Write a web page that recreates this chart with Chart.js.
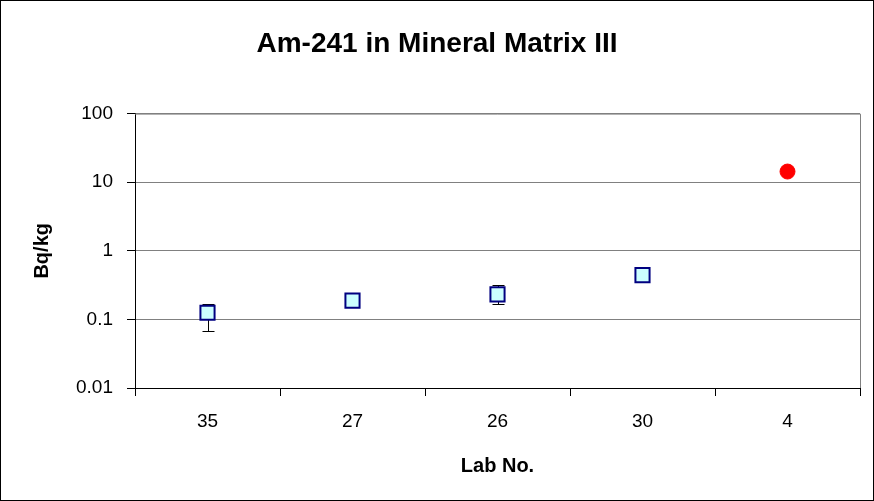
<!DOCTYPE html>
<html>
<head>
<meta charset="utf-8">
<script src="https://cdn.jsdelivr.net/npm/chart.js@4"></script>
<style>
  html, body { margin: 0; padding: 0; background: #fff; }
  #wrap { width: 874px; height: 501px; }
</style>
</head>
<body>
<div id="wrap"><canvas id="myCanvas" width="874" height="501"></canvas></div>
<script>
const labs = ["35", "27", "26", "30", "4"];
const values = [0.125, 0.188, 0.232, 0.442, null];
const outlier = [null, null, null, null, 14.3];
const errLow = [0.0686, null, 0.169, null, null];
const errHigh = [0.168, null, 0.317, null, null];
const yTicks = [0.01, 0.1, 1, 10, 100];

const FONT = "'Liberation Sans', Arial, sans-serif";

// outer frame + top/right border of the plot area
const framePlugin = {
  id: "frame",
  afterDraw(chart) {
    const ctx = chart.ctx;
    const a = chart.chartArea;
    ctx.save();
    ctx.strokeStyle = "#808080";
    ctx.lineWidth = 1;
    ctx.beginPath();
    ctx.moveTo(a.left, a.top + 0.5);
    ctx.lineTo(a.right + 0.5, a.top + 0.5);
    ctx.lineTo(a.right + 0.5, a.bottom);
    ctx.stroke();
    ctx.strokeStyle = "#000";
    ctx.strokeRect(0.5, 0.5, chart.width - 1, chart.height - 1);
    ctx.restore();
  }
};

// error bars drawn under the markers
const errorBars = {
  id: "errorBars",
  beforeDatasetsDraw(chart) {
    const ctx = chart.ctx;
    const x = chart.scales.x;
    const y = chart.scales.y;
    ctx.save();
    ctx.strokeStyle = "#000";
    ctx.lineWidth = 1;
    errLow.forEach((lo, i) => {
      if (lo == null) return;
      const px = Math.round(x.getPixelForValue(i)) + 0.5;
      const y1 = Math.round(y.getPixelForValue(lo)) + 0.5;
      const y2 = Math.round(y.getPixelForValue(errHigh[i])) + 0.5;
      ctx.beginPath();
      ctx.moveTo(px, y1);
      ctx.lineTo(px, y2);
      ctx.moveTo(px - 6, y1);
      ctx.lineTo(px + 6, y1);
      ctx.moveTo(px - 6, y2);
      ctx.lineTo(px + 6, y2);
      ctx.stroke();
    });
    ctx.restore();
  }
};

new Chart(document.getElementById("myCanvas").getContext("2d"), {
  type: "line",
  data: {
    labels: labs,
    datasets: [
      {
        label: "Results",
        data: values,
        showLine: false,
        pointStyle: "rect",
        pointRadius: 10,
        pointHoverRadius: 10,
        pointBackgroundColor: "#ccffff",
        pointBorderColor: "#000080",
        pointBorderWidth: 2
      },
      {
        label: "Outlier",
        data: outlier,
        showLine: false,
        pointStyle: "circle",
        pointRadius: 7.5,
        pointHoverRadius: 7.5,
        pointBackgroundColor: "#ff0000",
        pointBorderColor: "#ff0000",
        pointBorderWidth: 1
      }
    ]
  },
  options: {
    responsive: false,
    animation: false,
    layout: { padding: { left: 14, right: 14, top: 0, bottom: 0 } },
    plugins: {
      legend: { display: false },
      tooltip: { enabled: false },
      title: {
        display: true,
        text: "Am-241 in Mineral Matrix III",
        color: "#000",
        font: { family: FONT, size: 28, weight: "bold" },
        padding: { top: 27, bottom: 53 }
      }
    },
    scales: {
      x: {
        type: "category",
        offset: true,
        grid: {
          offset: true,
          drawOnChartArea: false,
          drawTicks: true,
          tickLength: 8,
          tickColor: "#000"
        },
        border: { color: "#000", width: 1 },
        ticks: {
          color: "#000",
          padding: 14,
          font: { family: FONT, size: 19 }
        },
        title: {
          display: true,
          text: "Lab No.",
          color: "#000",
          font: { family: FONT, size: 20, weight: "bold" },
          padding: { top: 0, bottom: 23 }
        },
        afterFit(scale) { scale.height = 113; }
      },
      y: {
        type: "logarithmic",
        min: 0.01,
        max: 100,
        afterBuildTicks(scale) {
          scale.ticks = yTicks.map(v => ({ value: v }));
        },
        grid: {
          color: "#808080",
          tickColor: "#000",
          tickLength: 8
        },
        border: { color: "#000", width: 1 },
        ticks: {
          color: "#000",
          padding: 14,
          font: { family: FONT, size: 19 },
          callback: v => String(v)
        },
        title: {
          display: true,
          text: "Bq/kg",
          color: "#000",
          font: { family: FONT, size: 20, weight: "bold" },
          padding: { top: 16, bottom: 0 }
        },
        afterFit(scale) { scale.width = 121; }
      }
    }
  },
  plugins: [errorBars, framePlugin]
});
</script>
</body>
</html>
